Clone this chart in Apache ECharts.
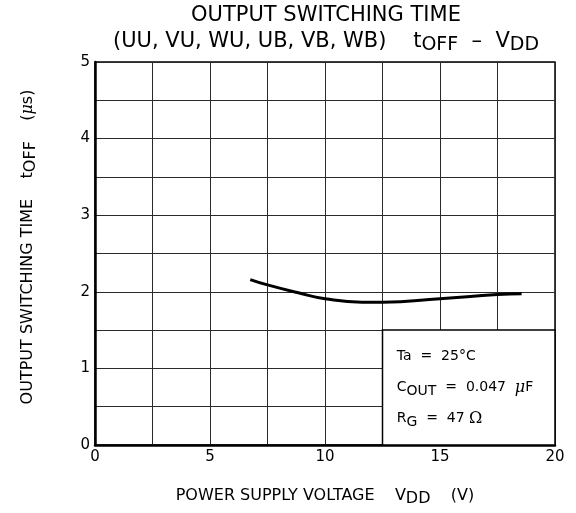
<!DOCTYPE html>
<html>
<head>
<meta charset="utf-8">
<script src="https://cdn.jsdelivr.net/npm/echarts@6/dist/echarts.min.js"></script>
<style>
  html, body { margin: 0; padding: 0; background: #fff; }
  #chart { width: 576px; height: 513px; }
</style>
</head>
<body>
<div id="chart"></div>
<script>
// curve: supply voltage (V) vs tOFF (us)
const vdd  = [6.75, 7.5, 8.8, 10, 11.6, 12.5, 15, 17.5, 18.55];
const toff = [2.16, 2.09, 1.99, 1.91, 1.865, 1.865, 1.91, 1.965, 1.975];
const noteLines = ['Ta  =  25°C', 'C{sub|OUT}  =  0.047  {mu|μ}F', 'R{sub|G}  =  47 {om|Ω}'];

const FONT = '"DejaVu Sans", sans-serif';
const SERIF = '"DejaVu Serif", serif';

let chart = echarts.init(document.getElementById('chart'));

let option = {
    backgroundColor: '#fff',
    animation: false,
    textStyle: { fontFamily: FONT, color: '#000' },
    title: {
        text: 'OUTPUT SWITCHING TIME\n(UU, VU, WU, UB, VB, WB)    t{sub|OFF}  –  V{sub|DD}',
        left: 321,
        textAlign: 'center',
        top: -2,
        textStyle: {
            fontFamily: FONT,
            fontSize: 21,
            fontWeight: 'normal',
            color: '#000',
            lineHeight: 26,
            rich: {
                sub: { fontSize: 19, fontFamily: FONT, padding: [7, 0, 0, 0] }
            }
        }
    },
    grid: {
        left: 95, right: 21, top: 62, bottom: 68,
        outerBoundsMode: 'none', containLabel: false,
        show: true, borderColor: '#000', borderWidth: 1.5
    },
    xAxis: {
        type: 'value',
        min: 0, max: 20, interval: 2.5,
        name: 'POWER SUPPLY VOLTAGE    V{sub|DD}    (V)',
        nameLocation: 'middle',
        nameGap: 39,
        nameTextStyle: {
            fontFamily: FONT, fontSize: 16, color: '#000',
            rich: { sub: { fontSize: 16, fontFamily: FONT, padding: [7, 0, 0, 0] } }
        },
        axisLine: { lineStyle: { color: '#000', width: 2.5 } },
        axisTick: { show: false },
        axisLabel: {
            fontFamily: FONT, fontSize: 15, color: '#000', margin: 5,
            formatter: v => (v % 5 === 0 ? String(v) : '')
        },
        splitLine: { show: true, lineStyle: { color: '#2a2a2a', width: 1 } }
    },
    yAxis: {
        type: 'value',
        min: 0, max: 5, interval: 0.5,
        name: 'OUTPUT SWITCHING TIME    t{sub|OFF}    ({mu|μ}s)',
        nameLocation: 'middle',
        nameGap: 56,
        nameRotate: 90,
        nameTextStyle: {
            fontFamily: FONT, fontSize: 16, color: '#000',
            padding: [0, 0, 0, 13],
            rich: {
                sub: { fontSize: 16, fontFamily: FONT, padding: [7, 0, 0, 0] },
                mu: { fontSize: 16, fontFamily: SERIF, fontStyle: 'italic' }
            }
        },
        axisLine: { show: true, lineStyle: { color: '#000', width: 2.5 } },
        axisTick: { show: false },
        axisLabel: {
            fontFamily: FONT, fontSize: 15, color: '#000', margin: 5,
            formatter: v => (v % 1 === 0 ? String(v) : '')
        },
        splitLine: { show: true, lineStyle: { color: '#2a2a2a', width: 1 } }
    },
    series: [
        {
            type: 'line',
            data: vdd.map((v, i) => [v, toff[i]]),
            smooth: true,
            symbol: 'none',
            lineStyle: { color: '#000', width: 3 },
            markArea: {
                silent: true,
                itemStyle: { color: '#fff', borderColor: '#000', borderWidth: 1.5 },
                label: {
                    show: true,
                    position: 'insideLeft',
                    distance: 15,
                    formatter: noteLines.join('\n'),
                    fontFamily: FONT,
                    fontSize: 14,
                    color: '#000',
                    lineHeight: 31,
                    rich: {
                        sub: { fontSize: 14, fontFamily: FONT, padding: [7, 0, 0, 0] },
                        mu: { fontSize: 16, fontFamily: SERIF, fontStyle: 'italic' },
                        om: { fontSize: 16, fontFamily: SERIF }
                    }
                },
                data: [[{ coord: [12.5, 1.5] }, { coord: [20, 0] }]]
            }
        }
    ]
};

chart.setOption(option);
</script>
</body>
</html>
